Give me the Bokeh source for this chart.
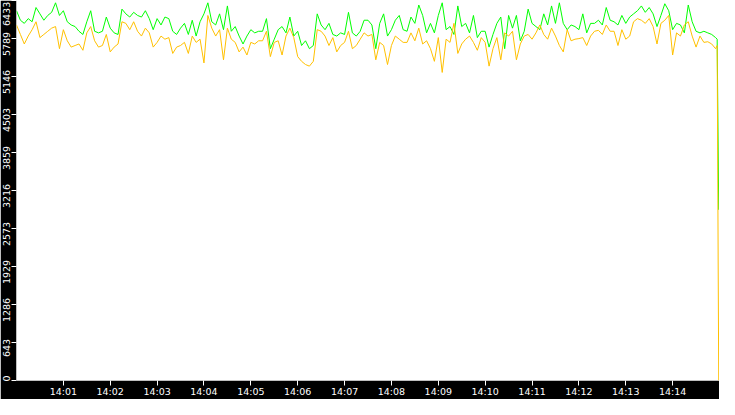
import pandas as pd

from bokeh.embed import file_html
from bokeh.models import ColumnDataSource, FixedTicker, Range1d
from bokeh.plotting import figure
from bokeh.resources import INLINE

# ── Data ──────────────────────────────────────────────────────────────────────
START = "2024-01-01 14:00:00"
END = "2024-01-01 14:15:00"

# seconds after 14:00:00 of each sample
sample_seconds = list(range(0, 900, 5)) + [897, 899]

green_values = [
    6260, 6099, 6046, 6126, 6073, 6314, 6207, 6099, 6180, 6233, 6394, 6180, 6260, 6073, 6019,
    5992, 5912, 5858, 6073, 6260, 5912, 5885, 5912, 6153, 5965, 5885, 5858, 6287, 6207, 6153,
    6233, 6180, 6153, 6260, 6126, 5939, 6126, 6019, 6153, 6126, 5912, 5858, 5965, 6046, 5858,
    6099, 5831, 6073, 6207, 6394, 6073, 6019, 6207, 5939, 6341, 5912, 5992, 5831, 5697, 5831,
    5939, 5885, 5912, 5912, 6126, 5617, 5778, 5939, 5992, 5885, 6153, 5831, 5912, 5671, 5751,
    5617, 5671, 6207, 6019, 5939, 6046, 5858, 5831, 5885, 5858, 6233, 5885, 5831, 5912, 6099,
    6099, 6019, 5617, 6046, 6207, 5831, 5939, 6099, 6180, 5939, 5912, 6153, 6046, 6357, 6180,
    5885, 6046, 5885, 6180, 6394, 5939, 5992, 5858, 6341, 5992, 6046, 5885, 6180, 5805, 5912,
    5912, 5644, 5858, 6046, 6153, 5617, 6180, 5965, 6180, 5751, 5912, 6287, 6046, 5992, 5939,
    6207, 6019, 6341, 6046, 6394, 6046, 5939, 6019, 5992, 5939, 6207, 5885, 6046, 6046, 6099,
    6019, 6314, 6099, 6073, 6019, 6180, 6046, 6153, 6207, 6260, 6341, 6233, 6314, 6207, 5992,
    6180, 6378, 6260, 5939, 6046, 6019, 5885, 6357, 6073, 5912, 5885, 5912, 5885, 5858, 5805,
    5778, 2890,
]

orange_values = [
    6019, 5858, 5697, 5831, 5939, 6073, 5805, 5858, 5912, 5965, 5992, 5617, 5939, 5751, 5644,
    5671, 5697, 5590, 5885, 5992, 5751, 5644, 5671, 5858, 5563, 5644, 5697, 6073, 6046, 5939,
    6073, 5912, 5831, 5965, 5885, 5644, 5724, 5831, 5778, 5805, 5537, 5644, 5671, 5724, 5537,
    5831, 5724, 5778, 5376, 6180, 5965, 5831, 5939, 5429, 5965, 5778, 5724, 5563, 5644, 5510,
    5724, 5697, 5751, 5751, 5912, 5483, 5724, 5751, 5510, 5831, 5965, 5805, 5483, 5403, 5349,
    5322, 5403, 5939, 5912, 5831, 5671, 5805, 5563, 5671, 5724, 5912, 5617, 5671, 5778, 5885,
    5831, 5858, 5429, 5724, 5671, 5349, 5671, 5831, 5778, 5724, 5724, 5885, 5751, 5965, 5697,
    5751, 5617, 5403, 5805, 5215, 5778, 5724, 6046, 5537, 5697, 5778, 5831, 5724, 5590, 5805,
    5724, 5322, 5617, 5805, 5429, 5885, 5831, 5912, 5429, 5697, 5831, 5858, 5778, 5885, 6019,
    5858, 5778, 5965, 5831, 5671, 5563, 5939, 5751, 5778, 5788, 5805, 5671, 5831, 5912, 5928,
    5858, 6019, 5912, 5912, 5671, 5939, 5778, 5831, 6073, 6126, 6099, 6046, 6126, 5992, 5697,
    6046, 6099, 6180, 5510, 5885, 5831, 6019, 6073, 5831, 5644, 5831, 5724, 5735, 5697, 5617,
    5671, 0,
]

y_tick_values = [0, 643.3, 1286.6, 1929.9, 2573.2, 3216.5, 3859.8, 4503.1, 5146.4, 5789.7, 6433]
y_tick_labels = ["0", "643", "1286", "1929", "2573", "3216", "3859", "4503", "5146", "5789", "6433"]

x_tick_labels = [
    "14:01", "14:02", "14:03", "14:04", "14:05", "14:06", "14:07",
    "14:08", "14:09", "14:10", "14:11", "14:12", "14:13", "14:14",
]

FONT = "DejaVu Sans"
FONT_SIZE = "9.5px"
Y_MAX = 6433

# ── Source ────────────────────────────────────────────────────────────────────
times = pd.Timestamp(START) + pd.to_timedelta(sample_seconds, unit="s")
source = ColumnDataSource(dict(t=times, green=green_values, orange=orange_values))

x_tick_ms = [
    int(pd.Timestamp(START[:11] + lab).value // 1_000_000) for lab in x_tick_labels
]

# y labels hang ~5px below their tick (first/last kept inside the frame); the
# white tick marks are minor ticks at the real values, the invisible major
# ticks only carry the labels
FRAME_H = 382
px = Y_MAX / FRAME_H
label_shift_px = [-2] + [5.5] * (len(y_tick_values) - 2) + [13.5]
y_label_pos = [v - s * px for v, s in zip(y_tick_values, label_shift_px)]

# ── Figure ────────────────────────────────────────────────────────────────────
p = figure(
    width=719, height=399,
    x_axis_type="datetime",
    x_range=Range1d(pd.Timestamp(START), pd.Timestamp(END)),
    y_range=Range1d(0, Y_MAX),
    output_backend="svg",
    toolbar_location=None,
    min_border=0,
    border_fill_color="black",
    background_fill_color="white",
    outline_line_color=None,
)
p.xgrid.visible = False
p.ygrid.visible = False

for ax in (p.xaxis, p.yaxis):
    ax.axis_line_color = None
    ax.major_tick_out = 5
    ax.major_tick_in = 0
    ax.major_label_text_color = "white"
    ax.major_label_text_font = FONT
    ax.major_label_text_font_size = FONT_SIZE

p.xaxis.ticker = FixedTicker(ticks=x_tick_ms)
p.xaxis.major_label_overrides = dict(zip(x_tick_ms, x_tick_labels))
p.xaxis.major_tick_line_color = "white"
p.xaxis.minor_tick_line_color = None
p.xaxis.major_label_standoff = 0

p.yaxis.ticker = FixedTicker(ticks=y_label_pos, minor_ticks=y_tick_values)
p.yaxis.major_label_overrides = dict(zip(y_label_pos, y_tick_labels))
p.yaxis.major_label_orientation = "vertical"
p.yaxis.major_label_standoff = 1
p.yaxis.major_tick_line_color = None
p.yaxis.minor_tick_line_color = "white"
p.yaxis.minor_tick_out = 5
p.yaxis.minor_tick_in = 0

# ── Series ────────────────────────────────────────────────────────────────────
p.line(x="t", y="green", source=source, line_color="#00ff00", line_width=1)
p.line(x="t", y="orange", source=source, line_color="#ffc000", line_width=1)

open("out.html", "w").write(file_html(p, INLINE))
